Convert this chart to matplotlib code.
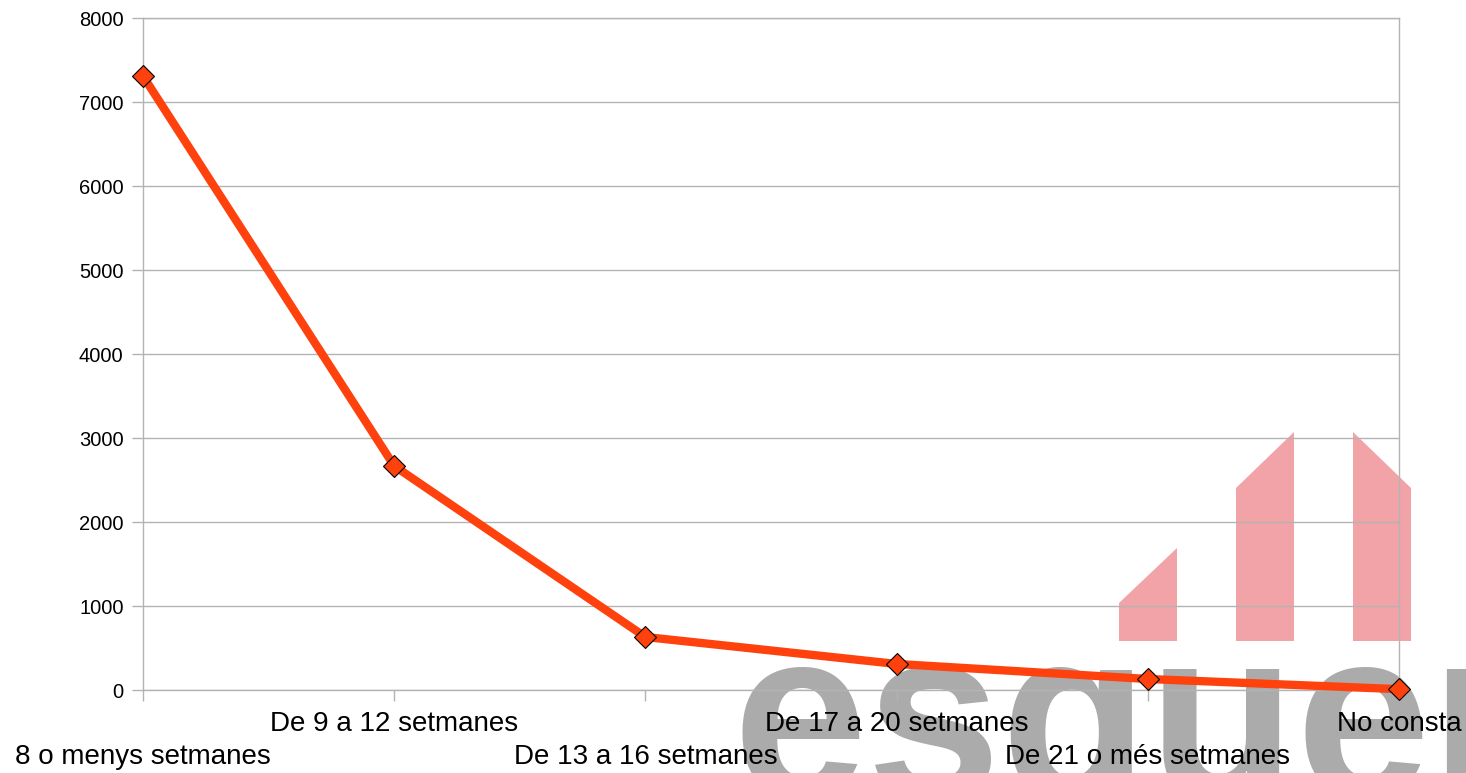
import matplotlib
matplotlib.use('Agg')
import matplotlib.pyplot as plt
from matplotlib.patches import Polygon

plt.rcParams['font.family'] = ['Liberation Sans', 'DejaVu Sans']

categories = ['8 o menys setmanes', 'De 9 a 12 setmanes', 'De 13 a 16 setmanes',
              'De 17 a 20 setmanes', 'De 21 o més setmanes', 'No consta']
values = [7310, 2667, 631, 310, 131, 10]
yticks = [0, 1000, 2000, 3000, 4000, 5000, 6000, 7000, 8000]

W, H = 1466, 773
fig = plt.figure(figsize=(W / 100, H / 100), dpi=100)

# watermark (logo) behind the chart, in pixel coords
bg = fig.add_axes([0, 0, 1, 1], zorder=0)
bg.set_xlim(0, W)
bg.set_ylim(H, 0)
bg.axis('off')
pink = '#f2a3a7'
shapes = [
    [(1119, 641), (1119, 603), (1177, 548), (1177, 641)],
    [(1236, 641), (1236, 488), (1294, 432), (1294, 641)],
    [(1353, 641), (1353, 432), (1411, 488), (1411, 641)],
]
for s in shapes:
    bg.add_patch(Polygon(s, closed=True, facecolor=pink, edgecolor='none'))
bg.text(733, 797, 'esquerra', fontsize=174, fontweight='bold', color='#ababab',
        ha='left', va='baseline')

ax = fig.add_axes([143 / W, (H - 690) / H, (1399 - 143) / W, (690 - 18) / H], zorder=1)
ax.set_facecolor('none')

x = list(range(len(categories)))
ax.plot(x, values, color='#ff410e', lw=6, marker='D', ms=11,
        markerfacecolor='#ff410e', markeredgecolor='black', markeredgewidth=0.8,
        solid_joinstyle='round', clip_on=False, zorder=3)

ax.set_xlim(0, len(categories) - 1)
ax.set_ylim(0, 8000)
ax.set_yticks(yticks)
ax.set_yticklabels([str(v) for v in yticks], fontsize=14.5)
ax.set_xticks(x)
ax.set_xticklabels(categories, fontsize=20)
ax.grid(axis='y', color='#b3b3b3', lw=1)
for sp in ax.spines.values():
    sp.set_color('#b3b3b3')
    sp.set_linewidth(1)
ax.tick_params(axis='both', color='#b3b3b3', length=8, width=1)
ax.tick_params(axis='y', pad=6)

# staggered x labels
for i, tick in enumerate(ax.xaxis.get_major_ticks()):
    tick.set_pad(7 if i % 2 else 31)

fig.savefig('out.png', dpi=100)
